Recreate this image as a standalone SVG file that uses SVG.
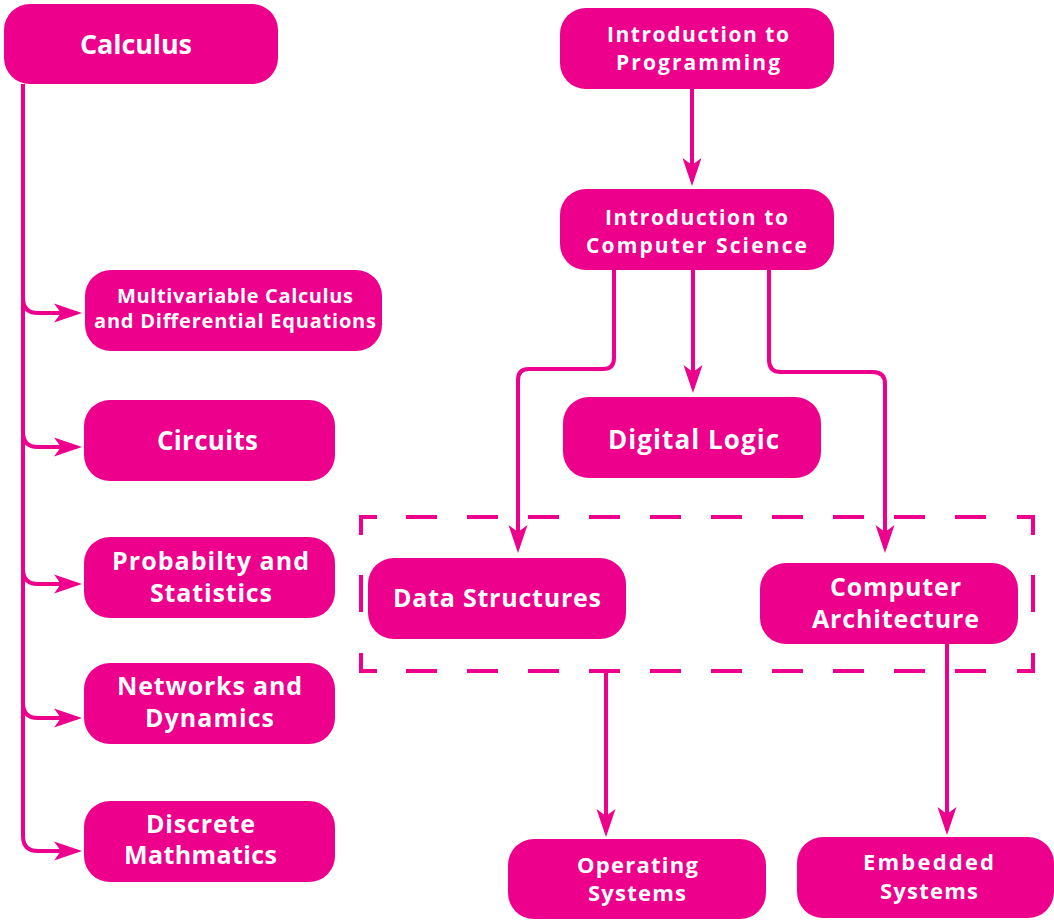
<svg xmlns="http://www.w3.org/2000/svg" width="1054" height="923" viewBox="0 0 1054 923">
<style>
.box{fill:#EC008C}
.t{fill:#fff;font-family:"Open Sans","Noto Sans","Liberation Sans",sans-serif;font-weight:700;text-anchor:middle}
.c{fill:none;stroke:#EC008C;stroke-width:4;stroke-linejoin:round}
.d{fill:none;stroke:#EC008C;stroke-width:4}
</style>
<defs>
<marker id="ah" viewBox="0 0 28 20" refX="23" refY="10" markerWidth="28" markerHeight="20" markerUnits="userSpaceOnUse" orient="auto">
<path d="M0,0.5 L28,10 L0,19.5 L7,10 z" fill="#EC008C"/>
</marker>
</defs>
<rect width="1054" height="923" fill="#fff"/>

<g id="group-box">
<path class="d" d="M361,535 V517 H377 M1017,517 H1033 V535 M361,653 V671 H377 M1017,671 H1033 V653 M361,575 V612 M1033,575 V612"/>
<path class="d" stroke-dasharray="31 30" d="M406,517 H987 M406,671 H987"/>
</g>

<g id="connectors">
<path class="c" d="M23,84 V836 Q23,851 38,851 H77" marker-end="url(#ah)"/>
<path class="c" d="M23,298 Q23,313 38,313 H77" marker-end="url(#ah)"/>
<path class="c" d="M23,432 Q23,447 38,447 H77" marker-end="url(#ah)"/>
<path class="c" d="M23,569 Q23,584 38,584 H77" marker-end="url(#ah)"/>
<path class="c" d="M23,703 Q23,718 38,718 H77" marker-end="url(#ah)"/>
<path class="c" d="M692,89 V181" marker-end="url(#ah)"/>
<path class="c" d="M614,270 V358 Q614,369 603,369 H529 Q518,369 518,380 V548" marker-end="url(#ah)"/>
<path class="c" d="M693,270 V388" marker-end="url(#ah)"/>
<path class="c" d="M769,270 V360 Q769,372 781,372 H873 Q885,372 885,384 V548" marker-end="url(#ah)"/>
<path class="c" d="M606,671 V832" marker-end="url(#ah)"/>
<path class="c" d="M947,644 V830" marker-end="url(#ah)"/>
</g>

<g id="calculus">
<rect class="box" x="4" y="4" width="274" height="80" rx="26"/>
<text class="t" x="136" y="54" font-size="27" textLength="112">Calculus</text>
</g>
<g id="multivariable">
<rect class="box" x="85" y="270" width="297" height="81" rx="26"/>
<text class="t" x="235" y="303" font-size="20" textLength="236">Multivariable Calculus</text>
<text class="t" x="235" y="328" font-size="20" textLength="282">and Differential Equations</text>
</g>
<g id="circuits">
<rect class="box" x="84" y="400" width="251" height="81" rx="26"/>
<text class="t" x="207.5" y="450" font-size="26" textLength="101">Circuits</text>
</g>
<g id="probability">
<rect class="box" x="84" y="537" width="251" height="81" rx="26"/>
<text class="t" x="210.5" y="570" font-size="25" textLength="197">Probabilty and</text>
<text class="t" x="211" y="602" font-size="25" textLength="122">Statistics</text>
</g>
<g id="networks">
<rect class="box" x="84" y="663" width="251" height="81" rx="26"/>
<text class="t" x="209.5" y="695" font-size="25" textLength="185">Networks and</text>
<text class="t" x="209.5" y="727" font-size="25" textLength="129">Dynamics</text>
</g>
<g id="discrete">
<rect class="box" x="84" y="801" width="251" height="81" rx="26"/>
<text class="t" x="200.5" y="833" font-size="25" textLength="109">Discrete</text>
<text class="t" x="200.5" y="864" font-size="25" textLength="153">Mathmatics</text>
</g>
<g id="intro-programming">
<rect class="box" x="560" y="8" width="274" height="81" rx="26"/>
<text class="t" x="698" y="42" font-size="21" textLength="182">Introduction to</text>
<text class="t" x="698" y="70" font-size="21" textLength="164">Programming</text>
</g>
<g id="intro-cs">
<rect class="box" x="560" y="189" width="274" height="81" rx="26"/>
<text class="t" x="696.5" y="225" font-size="21" textLength="183">Introduction to</text>
<text class="t" x="696.5" y="253" font-size="21" textLength="221">Computer Science</text>
</g>
<g id="digital-logic">
<rect class="box" x="563" y="397" width="258" height="81" rx="26"/>
<text class="t" x="693.5" y="449" font-size="26" textLength="171">Digital Logic</text>
</g>
<g id="data-structures">
<rect class="box" x="368" y="558" width="258" height="81" rx="26"/>
<text class="t" x="497" y="607" font-size="25" textLength="208">Data Structures</text>
</g>
<g id="computer-architecture">
<rect class="box" x="760" y="563" width="258" height="81" rx="26"/>
<text class="t" x="895.5" y="596" font-size="25" textLength="131">Computer</text>
<text class="t" x="895.5" y="628" font-size="25" textLength="167">Architecture</text>
</g>
<g id="operating-systems">
<rect class="box" x="508" y="839" width="258" height="80" rx="26"/>
<text class="t" x="637.5" y="873" font-size="22" textLength="121">Operating</text>
<text class="t" x="637" y="901" font-size="22" textLength="98">Systems</text>
</g>
<g id="embedded-systems">
<rect class="box" x="797" y="837" width="257" height="81" rx="26"/>
<text class="t" x="928.5" y="870" font-size="22" textLength="131">Embedded</text>
<text class="t" x="929" y="899" font-size="22" textLength="98">Systems</text>
</g>
</svg>
